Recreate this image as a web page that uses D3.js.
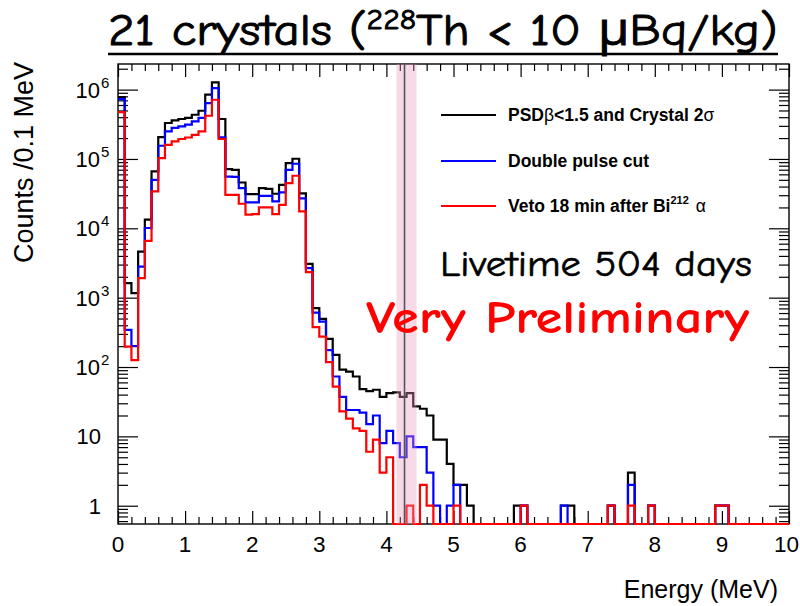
<!DOCTYPE html>
<html>
<head>
<meta charset="utf-8">
<script src="https://cdn.jsdelivr.net/npm/d3@7"></script>
<style>
  html, body { margin: 0; padding: 0; background: #fff; }
  svg { display: block; }
</style>
</head>
<body>
<svg id="chart" width="800" height="606"></svg>
<script>
// Energy spectrum, 0.1 MeV bins from 0 to 10 MeV (counts per bin).
const binWidth = 0.1;
const psdCrystalCut = [
  780000, 1620, 1160, 4620, 13300, 66000, 207000, 330000, 360000, 377000,
  390000, 434000, 496000, 844000, 1270000, 377000, 71500, 69800, 45800, 31100,
  31100, 38000, 37000, 31500, 42400, 87300, 100700, 32000, 3070, 705,
  494, 254, 150, 92, 86, 73, 48, 45, 47, 37,
  42, 43, 37, 42, 27, 25, 20, 9, 9, 4,
  2, 2, 1, 0, 0, 0, 0, 0, 0, 1,
  1, 0, 0, 0, 0, 0, 1, 1, 0, 0,
  0, 0, 0, 1, 0, 0, 3, 0, 0, 1,
  0, 0, 0, 0, 0, 0, 0, 0, 0, 1,
  1, 0, 0, 0, 0, 0, 0, 0, 0, 0
];
const doublePulseCut = [
  730000, 343, 200, 2810, 10100, 50000, 155000, 250000, 280000, 295000,
  312000, 348000, 390000, 640000, 1050000, 205000, 55800, 55000, 38000, 23600,
  23600, 29400, 29400, 24400, 32900, 69800, 85300, 27000, 2670, 609,
  452, 175, 73, 37, 24, 24, 22, 15, 20, 8,
  12, 8, 5, 10, 7, 7, 3, 1, 0, 1,
  2, 0, 0, 0, 0, 0, 0, 0, 0, 0,
  1, 0, 0, 0, 0, 0, 1, 0, 0, 0,
  0, 0, 0, 1, 0, 0, 2, 0, 0, 1,
  0, 0, 0, 0, 0, 0, 0, 0, 0, 1,
  1, 0, 0, 0, 0, 0, 0, 0, 0, 0
];
const bi212Veto = [
  475000, 197, 126, 1910, 6600, 34000, 103000, 160000, 179000, 194000,
  204000, 223000, 250000, 420000, 714000, 194000, 30400, 30400, 22600, 15700,
  16000, 20000, 20000, 16000, 21800, 44900, 57300, 17500, 2330, 375,
  275, 118, 52, 23, 18, 13, 12, 6, 9, 3,
  5, 0, 0, 1, 0, 2, 1, 0, 0, 0,
  1, 0, 0, 0, 0, 0, 0, 0, 0, 0,
  1, 0, 0, 0, 0, 0, 0, 0, 0, 0,
  0, 0, 0, 1, 0, 0, 1, 0, 0, 1,
  0, 0, 0, 0, 0, 0, 0, 0, 0, 1,
  1, 0, 0, 0, 0, 0, 0, 0, 0, 0
];

const seriesNames = ["PSDβ<1.5 and Crystal 2σ", "Double pulse cut", "Veto 18 min after Bi212 α"];
const seriesColors = ["#000000", "#0000ff", "#ff0000"];

const xTickLabels = ["0", "1", "2", "3", "4", "5", "6", "7", "8", "9", "10"];
const yTickExponents = [0, 1, 2, 3, 4, 5, 6];

const qValue = 4.27;            // marker line (MeV)
const roiWindow = [4.15, 4.45]; // shaded window (MeV)

// ---------------------------------------------------------------------
const svg = d3.select("#chart");
const frame = { left: 118, right: 789, top: 64, bottom: 524 };

const x = d3.scaleLinear().domain([0, 10]).range([frame.left, frame.right]);
const y = d3.scaleLog().domain([0.545, 2.34e6]).range([frame.bottom, frame.top]);

const helv = "'Liberation Sans', Arial, Helvetica, sans-serif";
const comic = "'Comic Sans MS', 'Comic Neue', 'Open Sans', 'Noto Sans', sans-serif";

// clip slightly below the frame so empty bins can lie on the bottom edge
svg.append("defs").append("clipPath").attr("id", "plotClip")
  .append("rect")
  .attr("x", frame.left).attr("y", frame.top)
  .attr("width", frame.right - frame.left).attr("height", frame.bottom - frame.top + 1.5);

// ---------------------------------------------------------------------
// Frame and inward ticks on all four sides
svg.append("rect")
  .attr("x", frame.left).attr("y", frame.top)
  .attr("width", frame.right - frame.left).attr("height", frame.bottom - frame.top)
  .attr("fill", "none").attr("stroke", "#000").attr("stroke-width", 1.4);

const xMajor = d3.range(0, 11, 1);
const xMinor = d3.range(0, 50).map(i => i * 0.2).filter(v => Math.abs(v - Math.round(v)) > 1e-6);
const yMajor = yTickExponents.map(e => Math.pow(10, e));
const yMinor = [];
for (let e = -1; e <= 6; e++) for (let m = 2; m <= 9; m++) {
  const v = m * Math.pow(10, e);
  if (v >= y.domain()[0] && v <= y.domain()[1]) yMinor.push(v);
}

function tickAxis(axisFn, scale, values, size, translate) {
  const g = svg.append("g").attr("transform", translate)
    .call(axisFn(scale).tickValues(values).tickSize(size).tickFormat(""));
  g.select(".domain").remove();
  g.selectAll(".tick line").attr("stroke", "#000").attr("stroke-width", 1.2);
  return g;
}
tickAxis(d3.axisBottom, x, xMajor, -13, `translate(0,${frame.bottom})`);
tickAxis(d3.axisBottom, x, xMinor, -7, `translate(0,${frame.bottom})`);
tickAxis(d3.axisTop, x, xMajor, -13, `translate(0,${frame.top})`);
tickAxis(d3.axisTop, x, xMinor, -7, `translate(0,${frame.top})`);
tickAxis(d3.axisLeft, y, yMajor, -20, `translate(${frame.left},0)`);
tickAxis(d3.axisLeft, y, yMinor, -10, `translate(${frame.left},0)`);
tickAxis(d3.axisRight, y, yMajor, -20, `translate(${frame.right},0)`);
tickAxis(d3.axisRight, y, yMinor, -10, `translate(${frame.right},0)`);

// ---------------------------------------------------------------------
// Step outline for one histogram; empty bins sit on the frame floor.
function stepPoints(counts) {
  const pts = [];
  counts.forEach((c, i) => {
    const yy = c > 0 ? y(c) : frame.bottom;
    pts.push([x(i * binWidth), yy], [x((i + 1) * binWidth), yy]);
  });
  return pts;
}
const line = d3.line();

const plot = svg.append("g").attr("clip-path", "url(#plotClip)");
[psdCrystalCut, doublePulseCut, bi212Veto].forEach((counts, k) => {
  plot.append("path")
    .attr("d", line(stepPoints(counts)))
    .attr("fill", "none")
    .attr("stroke", seriesColors[k])
    .attr("stroke-width", 2.2)
    .attr("stroke-linejoin", "miter");
});

// Shaded window and marker line
plot.append("rect")
  .attr("x", x(roiWindow[0])).attr("y", frame.top)
  .attr("width", x(roiWindow[1]) - x(roiWindow[0]))
  .attr("height", frame.bottom - frame.top)
  .attr("fill", "rgb(235,150,189)").attr("fill-opacity", 0.36);
plot.append("line")
  .attr("x1", x(qValue)).attr("x2", x(qValue))
  .attr("y1", frame.top).attr("y2", frame.bottom)
  .attr("stroke", "#555").attr("stroke-width", 1.6);

// x tick labels (the last one is pulled in so it stays on the page)
svg.append("g").selectAll("text").data(xTickLabels).join("text")
  .attr("x", (d, i) => i === xTickLabels.length - 1 ? 799 : x(xMajor[i]))
  .attr("y", 552)
  .attr("text-anchor", (d, i) => i === xTickLabels.length - 1 ? "end" : "middle")
  .attr("font-family", helv).attr("font-size", 22.5)
  .text(d => d);

// y tick labels with exponents
const yl = svg.append("g");
yTickExponents.forEach(e => {
  const yy = y(Math.pow(10, e)) + 8;
  if (e === 0 || e === 1) {
    yl.append("text").attr("x", 101).attr("y", yy).attr("text-anchor", "end")
      .attr("font-family", helv).attr("font-size", 22).text(e === 0 ? "1" : "10");
  } else {
    yl.append("text").attr("x", 100).attr("y", yy).attr("text-anchor", "end")
      .attr("font-family", helv).attr("font-size", 22).text("10");
    yl.append("text").attr("x", 101).attr("y", yy - 10)
      .attr("font-family", helv).attr("font-size", 15).text(String(e));
  }
});

// axis titles
svg.append("text")
  .attr("x", 778).attr("y", 598).attr("text-anchor", "end")
  .attr("font-family", helv).attr("font-size", 25)
  .text("Energy (MeV)");
svg.append("text")
  .attr("transform", "translate(33,62) rotate(-90)")
  .attr("text-anchor", "end")
  .attr("font-family", helv).attr("font-size", 27)
  .text("Counts /0.1 MeV");

// ---------------------------------------------------------------------
// Legend
const legendY = [115, 161, 206];
const legend = svg.append("g");
seriesNames.forEach((name, k) => {
  legend.append("line")
    .attr("x1", 441).attr("x2", 496)
    .attr("y1", legendY[k]).attr("y2", legendY[k])
    .attr("stroke", seriesColors[k]).attr("stroke-width", 2.2);
  const t = legend.append("text")
    .attr("x", 508).attr("y", legendY[k] + 6)
    .attr("font-family", helv).attr("font-size", 17.5).attr("font-weight", "bold");
  if (k === 0) {
    t.append("tspan").text("PSD");
    t.append("tspan").attr("font-weight", "normal").text("β");
    t.append("tspan").text("<1.5 and Crystal 2");
    t.append("tspan").attr("font-weight", "normal").text("σ");
  } else if (k === 1) {
    t.text(name);
  } else {
    t.append("tspan").text("Veto 18 min after Bi");
    t.append("tspan").attr("font-size", 11).attr("dy", -8).text("212");
    t.append("tspan").attr("font-weight", "normal").attr("dy", 8).attr("dx", 7).text("α");
  }
});

// ---------------------------------------------------------------------
// Annotations, stretched to their box widths
function fitWidth(sel, x0, width) {
  const bb = sel.node().getBBox();
  const s = width / bb.width;
  sel.attr("transform", `translate(${x0},0) scale(${s},1) translate(${-bb.x},0)`);
}

const title = svg.append("g");
const tt = title.append("text").attr("x", 0).attr("y", 45)
  .attr("font-family", comic).attr("font-size", 45).attr("fill", "#000")
  .attr("stroke", "#000").attr("stroke-width", 0.9);
tt.append("tspan").text("21 crystals (");
tt.append("tspan").attr("font-size", 28).attr("dy", -16).text("228");
tt.append("tspan").attr("dy", 16).text("Th < 10 μBq/kg)");
fitWidth(title, 108, 670);
svg.append("line").attr("x1", 108).attr("x2", 778).attr("y1", 54).attr("y2", 54)
  .attr("stroke", "#000").attr("stroke-width", 2.5);

const live = svg.append("g");
live.append("text").attr("x", 0).attr("y", 276)
  .attr("font-family", comic).attr("font-size", 37).attr("fill", "#000")
  .attr("stroke", "#000").attr("stroke-width", 0.6)
  .text("Livetime 504 days");
fitWidth(live, 440, 312);

const prelim = svg.append("g");
prelim.append("text").attr("x", 0).attr("y", 333)
  .attr("font-family", comic).attr("font-size", 47).attr("font-weight", "bold")
  .attr("fill", "#ff0000")
  .text("Very Preliminary");
fitWidth(prelim, 366, 384);
</script>
</body>
</html>
